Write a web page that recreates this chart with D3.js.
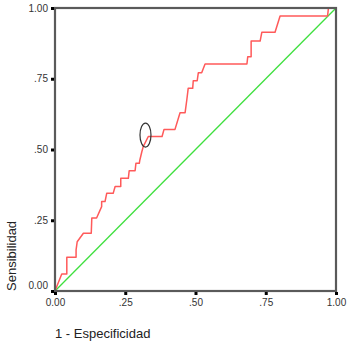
<!DOCTYPE html>
<html><head><meta charset="utf-8">
<script src="https://cdn.jsdelivr.net/npm/d3@7/dist/d3.min.js"></script>
<style>body{margin:0;background:#fff}svg{display:block}</style>
</head><body>
<svg id="c" width="351" height="345"></svg>
<script>
// ROC curve (1 - specificity, sensitivity)
const rocX = [0,0.024,0.042,0.042,0.075,0.075,0.079,0.101,0.129,0.131,0.148,0.166,0.166,0.178,0.184,0.207,0.214,0.234,0.234,0.261,0.264,0.285,0.288,0.300,0.302,0.309,0.314,0.332,0.381,0.388,0.427,0.445,0.463,0.469,0.474,0.490,0.492,0.506,0.510,0.522,0.534,0.683,0.686,0.698,0.698,0.730,0.736,0.783,0.793,0.801,0.970,0.973,1];
const rocY = [0,0.060,0.060,0.119,0.119,0.145,0.174,0.204,0.204,0.258,0.258,0.298,0.316,0.316,0.345,0.345,0.369,0.369,0.398,0.398,0.425,0.425,0.451,0.451,0.463,0.492,0.510,0.546,0.546,0.571,0.571,0.630,0.630,0.675,0.716,0.716,0.743,0.743,0.771,0.771,0.802,0.802,0.828,0.828,0.883,0.883,0.914,0.914,0.946,0.972,0.972,0.999,1];
const refX = [0,1];
const refY = [0,1];
const tickVals = [0,0.25,0.5,0.75,1];
const tickLabels = ["0.00",".25",".50",".75","1.00"];
const markerPt = [0.322,0.551];

const svg = d3.select("#c");
const L=55,R=336,T=8,B=291;
const x = d3.scaleLinear().domain([0,1]).range([L,R]);
const y = d3.scaleLinear().domain([0,1]).range([B,T]);

// reference diagonal
svg.append("path")
  .datum(refX.map((v,i)=>[v,refY[i]]))
  .attr("d", d3.line().x(d=>x(d[0])).y(d=>y(d[1])))
  .attr("fill","none").attr("stroke","#3ee03e").attr("stroke-width",1.3);

// ROC curve
svg.append("path")
  .datum(rocX.map((v,i)=>[v,rocY[i]]))
  .attr("d", d3.line().x(d=>x(d[0])).y(d=>y(d[1])))
  .attr("fill","none").attr("stroke","#ff5a5a").attr("stroke-width",1.5)
  .attr("stroke-linejoin","round");

// marker ellipse
svg.append("ellipse")
  .attr("cx", x(markerPt[0])).attr("cy", y(markerPt[1]))
  .attr("rx",5.5).attr("ry",12)
  .attr("fill","none").attr("stroke","#333").attr("stroke-width",1.2);

// frame
svg.append("rect").attr("x",L).attr("y",T).attr("width",R-L).attr("height",B-T)
  .attr("fill","none").attr("stroke","#5a5a5a").attr("stroke-width",2.2);

// axes
const fmt = d => tickLabels[tickVals.indexOf(d)];
const gx = svg.append("g").attr("transform",`translate(0,${B+1})`)
  .call(d3.axisBottom(x).tickValues(tickVals).tickFormat(fmt).tickSize(3).tickPadding(4));
const gy = svg.append("g").attr("transform",`translate(${L-1},0)`)
  .call(d3.axisLeft(y).tickValues(tickVals).tickFormat(fmt).tickSize(3).tickPadding(3));
[gx,gy].forEach(g=>{
  g.select(".domain").remove();
  g.selectAll(".tick line").attr("stroke","#000").attr("stroke-width",3);
  g.selectAll(".tick text").attr("font-family","Arial, 'Liberation Sans', sans-serif")
    .attr("font-size",10).attr("fill","#333");
});
gy.selectAll(".tick text").filter(d=>d===0).attr("dy","-0.3em");

// axis titles
svg.append("text").attr("x",55).attr("y",338)
  .attr("font-family","Arial, 'Liberation Sans', sans-serif").attr("font-size",13).attr("fill","#222")
  .text("1 - Especificidad");
svg.append("text").attr("transform","translate(16,291) rotate(-90)")
  .attr("font-family","Arial, 'Liberation Sans', sans-serif").attr("font-size",13).attr("fill","#222")
  .text("Sensibilidad");
</script>
</body></html>
